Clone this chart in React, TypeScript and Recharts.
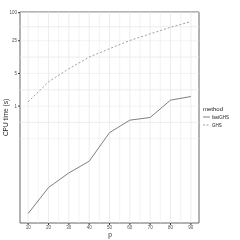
import React from 'react';
import {
  LineChart,
  Line,
  XAxis,
  YAxis,
  ReferenceLine,
  ReferenceArea
} from 'recharts';

const pValues = [10, 20, 30, 40, 50, 60, 70, 80, 90];
const fastGHS = [0.005, 0.018, 0.037, 0.066, 0.27, 0.5, 0.57, 1.34, 1.6];
const GHS = [1.23, 3.3, 6.3, 11.2, 16.9, 25.4, 35.2, 48.7, 64.3];

const xTicks = [10, 20, 30, 40, 50, 60, 70, 80, 90];
const xGrid = [10, 15, 20, 25, 30, 35, 40, 45, 50, 55, 60, 65, 70, 75, 80, 85, 90];
const yTicks = [1, 5, 25, 100];
const yGrid = [0.2, 0.447, 1, 2.236, 5, 11.18, 25, 50, 100];

const data = pValues.map((p, i) => ({ p, fastGHS: fastGHS[i], GHS: GHS[i] }));

const font = '"Liberation Sans", Arial, sans-serif';
const xDomain: [number, number] = [6, 94];
const yDomain: [number, number] = [0.00314, 103.3];

const App: React.FC = () => {
  return (
    <div
      style={{
        position: 'absolute',
        left: 0,
        top: 0,
        width: 240,
        height: 240,
        background: '#fff',
        fontFamily: font,
        opacity: 0.999,
        willChange: 'transform'
      }}
    >
      <LineChart width={240} height={240} data={data} margin={{ top: 12, right: 41, bottom: 0, left: 0 }}>
        <XAxis
          dataKey="p"
          type="number"
          domain={xDomain}
          ticks={xTicks}
          allowDataOverflow
          height={17}
          axisLine={false}
          tickLine={{ stroke: '#333' }}
          tickSize={2}
          tickMargin={1}
          tick={{ fontSize: 4.5, fill: '#4d4d4d', fontFamily: font }}
        />
        <YAxis
          scale="log"
          type="number"
          domain={yDomain}
          ticks={yTicks}
          allowDataOverflow
          width={20}
          axisLine={false}
          tickLine={{ stroke: '#333' }}
          tickSize={2}
          tickMargin={1}
          tick={{ fontSize: 4.5, fill: '#4d4d4d', fontFamily: font }}
        />
        {xGrid.map((v) => (
          <ReferenceLine key={'x' + v} x={v} stroke="#ebebeb" strokeWidth={v % 10 === 0 ? 0.9 : 0.6} />
        ))}
        {yGrid.map((v, i) => (
          <ReferenceLine key={'y' + v} y={v} stroke="#ebebeb" strokeWidth={i % 2 === 0 ? 0.6 : 0.9} />
        ))}
        <ReferenceArea
          x1={xDomain[0]}
          x2={xDomain[1]}
          y1={yDomain[0]}
          y2={yDomain[1]}
          fill="none"
          stroke="#666"
          strokeWidth={1}
          ifOverflow="visible"
        />
        <Line
          type="linear"
          dataKey="fastGHS"
          stroke="#808080"
          strokeWidth={1}
          dot={false}
          isAnimationActive={false}
        />
        <Line
          type="linear"
          dataKey="GHS"
          stroke="#a0a0a0"
          strokeWidth={1}
          strokeDasharray="2 2"
          dot={false}
          isAnimationActive={false}
        />
      </LineChart>
      <svg style={{ position: 'absolute', left: 0, top: 0, pointerEvents: 'none' }} width={240} height={240}>
        <text x={110} y={237} fontSize={6.5} fill="#222" fontFamily={font} textAnchor="middle">p</text>
        <text
          x={8}
          y={117.5}
          fontSize={6.5}
          fill="#222"
          fontFamily={font}
          textAnchor="middle"
          transform="rotate(-90 8 117.5)"
        >
          CPU time (s)
        </text>
        <text x={203} y={111} fontSize={6} fill="#222" fontFamily={font}>method</text>
        <line x1={203} x2={210} y1={117} y2={117} stroke="#808080" strokeWidth={1} />
        <text x={212} y={118.6} fontSize={4.5} fill="#222" fontFamily={font}>fastGHS</text>
        <line x1={203} x2={210} y1={125} y2={125} stroke="#a0a0a0" strokeWidth={1} strokeDasharray="2 1.5" />
        <text x={212} y={126.6} fontSize={4.5} fill="#222" fontFamily={font}>GHS</text>
      </svg>
    </div>
  );
};

export default App;
